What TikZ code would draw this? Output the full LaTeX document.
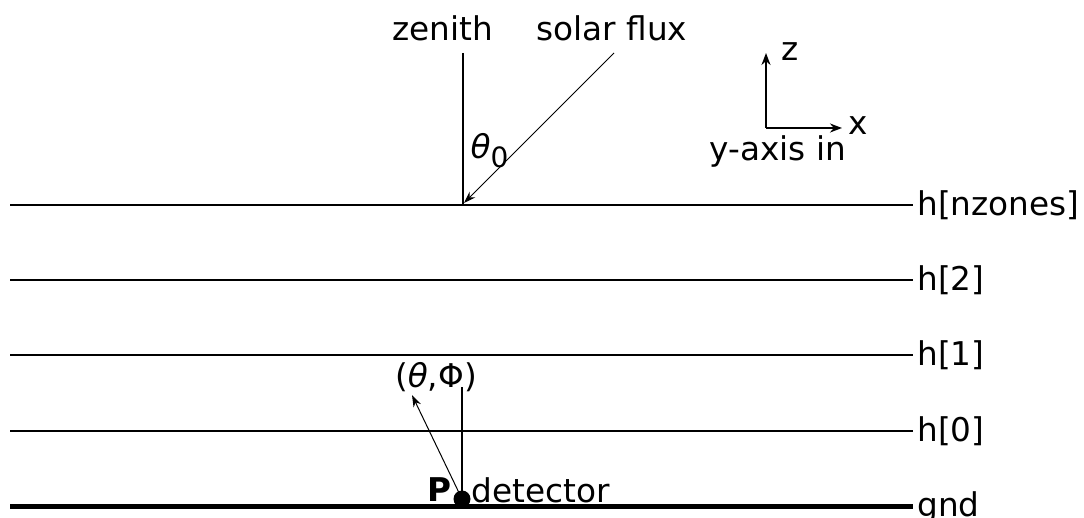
\documentclass[tikz,border=0pt]{standalone}
\usepackage{fontspec}
\setmainfont{DejaVu Sans}
\usepackage{tikz}
\usetikzlibrary{arrows.meta, positioning}

\begin{document}
\begin{tikzpicture}[
    x=0.5pt, y=-0.5pt,
    every node/.style={font=\fontsize{16.35pt}{19pt}\selectfont},
    layer/.style={line width=1pt},
    ground/.style={line width=2.5pt},
    level/.style={anchor=west, inner sep=2pt},
    ray/.style={line width=0.5pt, -{Stealth[length=6pt, width=4pt]}},
    axis/.style={line width=1pt, -{Stealth[length=6pt, width=4.5pt]}}
]
\useasboundingbox (0,0) rectangle (1084,518);

%% Layers
\coordinate (topL) at (10,205);
\coordinate (twoL) at (10,280);
\coordinate (oneL) at (10,355);
\coordinate (zeroL) at (10,431);
\coordinate (gndL) at (10,507);
\node (top)  [level] at (913,205) {h[nzones]};
\node (two)  [level] at (913,280) {h[2]};
\node (one)  [level] at (913,355) {h[1]};
\node (zero) [level] at (913,431) {h[0]};
\node (gnd)  [level] at (913,507) {gnd};
\draw [layer]  (topL)  -- (top.west);
\draw [layer]  (twoL)  -- (two.west);
\draw [layer]  (oneL)  -- (one.west);
\draw [layer]  (zeroL) -- (zero.west);
\draw [ground] (gndL)  -- (gnd.west |- gndL);

%% Zenith and solar flux
\node (zenith) at (443,28) {zenith};
\node (solar)  at (612,28) {solar flux};
\coordinate (zenTop) at (463,53);
\coordinate (zenBot) at (463,205);
\coordinate (sunTop) at (614,53);
\coordinate (sunBot) at (464,203);
\node (theta0) at (490,151) {\itshape θ\textsubscript{\upshape\fontsize{14pt}{16pt}\selectfont 0}};
\draw [layer] (zenTop) -- (zenBot);
\draw [ray]   (sunTop) -- (sunBot);

%% Axes
\coordinate (orig) at (766,128);
\coordinate (zTip) at (766,53);
\coordinate (xTip) at (842,128);
\node (zlab) at (790,52)  {z};
\node (xlab) at (858,126) {x};
\node (ylab) at (778,151) {y-axis in};
\draw [axis] (orig) -- (zTip);
\draw [axis] (orig) -- (xTip);

%% Detector
\node (det) [circle, fill, inner sep=0pt, minimum size=8.5pt] at (462,499) {};
\node (P)   [left=-2.5pt of det, font=\fontsize{16.35pt}{19pt}\selectfont\bfseries, yshift=4.5pt] {P};
\node (detlab) [right=-3pt of det, yshift=4.5pt] {detector};
\node (dir) at (436,377) {(\textit{θ},Φ)};
\coordinate (dirTop) at (462,387);
\coordinate (dirTip) at (412,395);
\draw [layer] (det.center) -- (dirTop);
\draw [ray]   (det.center) -- (dirTip);

\end{tikzpicture}
\end{document}
